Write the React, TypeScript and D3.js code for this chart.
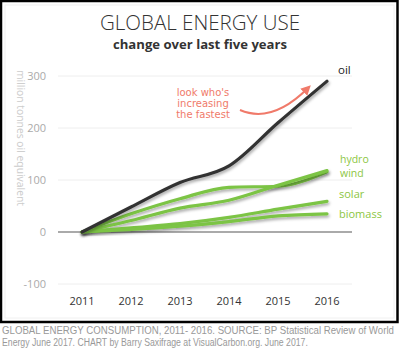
import React, { useLayoutEffect, useRef, useState } from "react";
import * as d3 from "d3";

const years = [2011, 2012, 2013, 2014, 2015, 2016];
const oil = [0, 48, 95, 127, 210, 290];
const hydro = [0, 35, 64, 86, 88, 116];
const wind = [0, 22, 46, 61, 90, 118];
const solar = [0, 8, 16, 28, 44, 59];
const biomass = [0, 5, 11, 20, 31, 35];
const yTicks = [-100, 0, 100, 200, 300];
const footer1 = "GLOBAL ENERGY CONSUMPTION, 2011- 2016. SOURCE: BP Statistical Review of World";
const footer2 = "Energy June 2017. CHART by Barry Saxifrage at VisualCarbon.org. June 2017.";

const GREEN = "#7cc444";
const LABEL_GREEN = "#8cc63f";

export default function App() {
  const W = 400, H = 350;
  const x = d3.scalePoint<number>().domain(years).range([82, 327]);
  const y = d3.scaleLinear().domain([-100, 300]).range([284, 76]);
  const line = d3
    .line<number>()
    .x((_, i) => x(years[i]) as number)
    .y((d) => y(d))
    .curve(d3.curveMonotoneX);

  const greens = [hydro, wind, solar, biomass];

  const f1 = useRef<SVGTextElement>(null);
  const f2 = useRef<SVGTextElement>(null);
  const [sx1, setSx1] = useState(0.87);
  const [sx2, setSx2] = useState(0.8);
  useLayoutEffect(() => {
    if (f1.current) {
      const w = f1.current.getComputedTextLength();
      if (w > 0) setSx1(392 / w);
    }
    if (f2.current) {
      const w = f2.current.getComputedTextLength();
      if (w > 0) setSx2(306 / w);
    }
  }, []);

  return (
    <svg width={W} height={H} style={{ position: "absolute", left: 0, top: 0 }} fontFamily="'Open Sans', sans-serif">
      <defs>
        <filter id="sh" x="-10%" y="-10%" width="130%" height="130%">
          <feDropShadow dx="1" dy="2" stdDeviation="1.5" floodColor="#000" floodOpacity="0.35" />
        </filter>
        <marker id="ah" viewBox="0 0 10 10" refX="6" refY="5" markerWidth="5" markerHeight="5" orient="auto">
          <path d="M0,0 L10,5 L0,10 z" fill="#f07a6a" />
        </marker>
      </defs>
      <rect x={0} y={0} width={W} height={H} fill="#fff" />
      <rect x={1} y={1} width={396.5} height={321} fill="none" stroke="#000" strokeWidth={2.5} />
      <rect x={5} y={5} width={389} height={313} fill="none" stroke="#f0f0f0" strokeWidth={1} />

      <text x={200} y={30} textAnchor="middle" fontSize={20.5} fontWeight={300} fill="#333" textLength={200} lengthAdjust="spacingAndGlyphs">GLOBAL ENERGY USE</text>
      <text x={200} y={49} textAnchor="middle" fontSize={12.5} fontWeight={700} fill="#333" textLength={174} lengthAdjust="spacingAndGlyphs">change over last five years</text>

      {yTicks.map((t) => (
        <g key={t}>
          <line x1={58} x2={352} y1={y(t)} y2={y(t)} stroke={t === 0 ? "#aaa" : "#eee"} strokeWidth={t === 0 ? 2 : 1} />
          <text x={46} y={y(t) + 4} textAnchor="end" fontSize={11} fill="#aaa">{t}</text>
        </g>
      ))}

      <text transform="translate(17,70) rotate(90)" fontSize={10.5} fill="#ccc" textLength={136} lengthAdjust="spacingAndGlyphs">million tonnes oil equivalent</text>

      {years.map((yr) => (
        <text key={yr} x={x(yr) as number} y={305} textAnchor="middle" fontSize={11} fill="#333">{yr}</text>
      ))}

      {greens.map((s, i) => (
        <path key={i} d={line(s) || ""} fill="none" stroke={GREEN} strokeWidth={3.2} strokeLinecap="round" filter="url(#sh)" />
      ))}
      <path d={line(oil) || ""} fill="none" stroke="#333" strokeWidth={3.2} strokeLinecap="round" filter="url(#sh)" />

      <text x={338} y={74} fontSize={11.5} fill="#222">oil</text>
      <text x={340} y={163} fontSize={10.5} fill={LABEL_GREEN}>hydro</text>
      <text x={340} y={177} fontSize={10.5} fill={LABEL_GREEN}>wind</text>
      <text x={339} y={198} fontSize={11} fill={LABEL_GREEN}>solar</text>
      <text x={339} y={218} fontSize={11} fill={LABEL_GREEN}>biomass</text>

      <g fontFamily="'Comic Sans MS', 'DejaVu Sans', cursive" fontSize={10} fill="#f07a6a" textAnchor="middle">
        <text x={203} y={96}>look who's</text>
        <text x={203} y={107}>increasing</text>
        <text x={203} y={118}>the fastest</text>
      </g>
      <path d="M240,110 Q272,124 308,88" fill="none" stroke="#f07a6a" strokeWidth={2} markerEnd="url(#ah)" />

      <g fontFamily="'Liberation Sans Narrow', 'Liberation Sans', Arial, sans-serif" fontSize={11} fill="#999">
        <g transform={`translate(2,0) scale(${sx1},1)`}>
          <text ref={f1} x={0} y={334}>{footer1}</text>
        </g>
        <g transform={`translate(2,0) scale(${sx2},1)`}>
          <text ref={f2} x={0} y={346}>{footer2}</text>
        </g>
      </g>
    </svg>
  );
}
